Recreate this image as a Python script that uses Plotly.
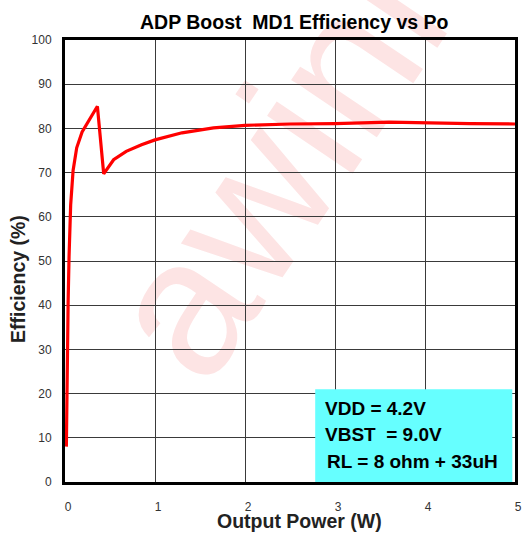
import plotly.graph_objects as go

# Data
po = [0.015, 0.02, 0.027, 0.035, 0.045, 0.063, 0.09, 0.13, 0.19, 0.26, 0.36,
      0.43, 0.54, 0.68, 0.85, 1.0, 1.3, 1.65, 2.0, 2.5, 3.0, 3.6, 4.0, 4.5, 5.0]
eff = [8, 20, 30, 41, 51, 62.7, 70.5, 75.6, 79.2, 81.7, 85.0,
       69.7, 72.9, 74.8, 76.3, 77.4, 79.0, 80.1, 80.7, 81.0, 81.1, 81.4, 81.2, 81.1, 81.0]

x_ticks = [0, 1, 2, 3, 4, 5]
y_ticks = [0, 10, 20, 30, 40, 50, 60, 70, 80, 90, 100]

title_text = "ADP Boost  MD1 Efficiency vs Po"
x_title = "Output Power (W)"
y_title = "Efficiency (%)"
box_lines = ["VDD = 4.2V", "VBST  = 9.0V", "RL = 8 ohm + 33uH"]
watermark = "awinic"

FONT = "Arial, 'Liberation Sans', sans-serif"

fig = go.Figure()
fig.add_trace(go.Scatter(x=po, y=eff, mode="lines",
                         line=dict(color="#ff0000", width=3.2),
                         showlegend=False, hoverinfo="skip"))

axis_common = dict(showline=True, mirror=True, linecolor="black", linewidth=3,
                   showgrid=True, gridcolor="#3a3a3a", gridwidth=1.3,
                   zeroline=False, ticks="", automargin=False,
                   tickfont=dict(family=FONT, size=12, color="#333333"))

fig.update_xaxes(range=[0, 5], tickvals=x_ticks, ticklabelstandoff=12,
                 ticklabelshift=3, **axis_common)
fig.update_yaxes(range=[0, 100], tickvals=y_ticks, ticklabelstandoff=8,
                 **axis_common)

# cyan info box
fig.add_shape(type="rect", xref="x", yref="y", x0=2.78, x1=4.97, y0=0, y1=21,
              fillcolor="#66ffff", line=dict(width=0), layer="above")

ann = []
ann.append(dict(text="<b>%s</b>" % title_text, xref="paper", yref="paper",
                x=0.51, y=1 + 18 / 442, xanchor="center", yanchor="middle",
                showarrow=False, font=dict(family=FONT, size=19.5, color="black")))
ann.append(dict(text="<b>%s</b>" % x_title, xref="paper", yref="paper",
                x=(299 - 65) / 450, y=-(521 - 482) / 442, xanchor="center",
                yanchor="middle", showarrow=False,
                font=dict(family=FONT, size=19.5, color="#222222")))
ann.append(dict(text="<b>%s</b>" % y_title, xref="paper", yref="paper",
                x=(18 - 65) / 450, y=(482 - 279) / 442, xanchor="center",
                yanchor="middle", textangle=-90, showarrow=False,
                font=dict(family=FONT, size=19.5, color="#222222")))
ys = [408, 434, 461]
xs = [323, 323, 325]
for t, yy, xx in zip(box_lines, ys, xs):
    ann.append(dict(text="<b>%s</b>" % t, xref="paper", yref="paper",
                    x=(xx - 65) / 450, y=(482 - yy) / 442, xanchor="left",
                    yanchor="middle", showarrow=False,
                    font=dict(family=FONT, size=19, color="black")))

# watermark drawn below the grid
fig.add_shape(type="rect", xref="paper", yref="paper",
              x0=0.49, x1=0.492, y0=0.822, y1=0.824,
              line=dict(width=0), fillcolor="rgba(0,0,0,0)", layer="below",
              label=dict(text=watermark, textangle=-56, textposition="middle center",
                         font=dict(family=FONT, size=195, color="#fde4e4")))

fig.update_layout(width=523, height=534,
                  margin=dict(l=65, r=8, t=40, b=52, autoexpand=False),
                  paper_bgcolor="white", plot_bgcolor="rgba(0,0,0,0)",
                  annotations=ann, showlegend=False)

fig.write_html("out.html", config={"displayModeBar": False},
               post_script="document.body.style.margin='0px';document.body.style.padding='0px';")
